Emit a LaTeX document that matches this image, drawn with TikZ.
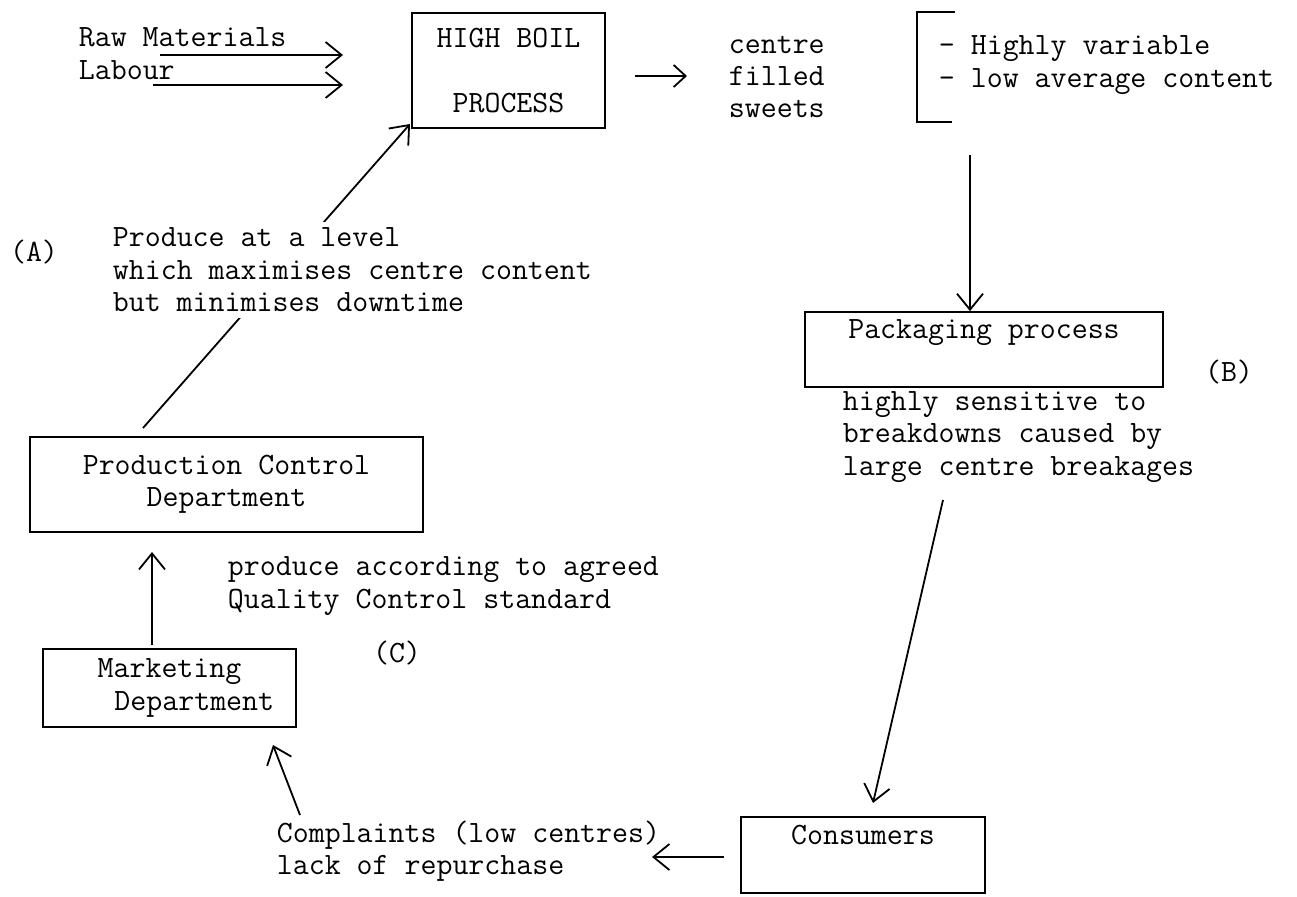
\documentclass[tikz,border=0pt]{standalone}
\usepackage{fontspec}
\usetikzlibrary{arrows.meta}
\newcommand{\tw}{\fontsize{15.5}{16.2}\selectfont\ttfamily}

\begin{document}
\begin{tikzpicture}[x=0.5pt, y=-0.5pt, font=\tw, line width=0.9pt,
    >={Straight Barb[length=8pt,width=13pt]},
    box/.style={draw, inner sep=0pt, align=center},
    note/.style={anchor=west, inner sep=0pt, align=left}]
    \useasboundingbox (0,0) rectangle (1297,896);

    % Inputs
    \node [note] (rawmat) at (78,37) {Raw Materials};
    \node [note] (labour) at (78,70) {Labour};
    \coordinate (rmA) at (160,55);  \coordinate (rmB) at (343,55);
    \coordinate (lbA) at (153,85);  \coordinate (lbB) at (343,85);
    \draw [->] (rmA) -- (rmB);
    \draw [->] (lbA) -- (lbB);

    % High boil process
    \node [box, minimum width=96.5pt, minimum height=57.5pt] (boil) at (508.5,70.5)
        {HIGH BOIL\\[16pt]PROCESS};
    \coordinate (bwA) at (635,76);  \coordinate (bwB) at (687,76);
    \draw [->, >={Straight Barb[length=6pt,width=11pt]}] (bwA) -- (bwB);
    \node [note] (sweets) at (728,77) {centre\\filled\\sweets};

    % Bracket and remarks
    \coordinate (brT) at (955,12);  \coordinate (brB) at (952,122);
    \draw (brT) -- (917,12) -- (917,122) -- (brB);
    \node [note] (vary) at (938,65) {- Highly variable\\- low average content};

    % Packaging
    \node [box, minimum width=179pt, minimum height=37.5pt] (pack) at (984,349.5)
        {Packaging process\\[4pt]};
    \coordinate (pkA) at (970,155);
    \draw [->] (pkA) -- (pkA |- pack.north);
    \node [note] (brk) at (842,437) {highly sensitive to\\breakdowns caused by\\large centre breakages};
    \node (labB) at (1229,372) {(B)};

    % Consumers
    \node [box, minimum width=122pt, minimum height=38pt] (cons) at (863,855) {Consumers\\[4pt]};
    \coordinate (csA) at (943,500);  \coordinate (csB) at (873,803);
    \draw [->] (csA) -- (csB);
    \node [note] (compl) at (276,851) {Complaints (low centres)\\lack of repurchase};
    \coordinate (cmA) at (724,857);  \coordinate (cmB) at (652,857);
    \draw [->] (cmA) -- (cmB);

    % Marketing
    \node [box, minimum width=126.5pt, minimum height=39pt] (mkt) at (169.5,688)
        {Marketing\\\hspace*{1.6em}Department};
    \coordinate (mkA) at (300,815);  \coordinate (mkB) at (273,745);
    \draw [->] (mkA) -- (mkB);
    \node (labC) at (397,653) {(C)};
    \node [note] (qc) at (227,586) {produce according to agreed\\Quality Control standard};

    % Production control
    \node [box, minimum width=196.5pt, minimum height=47.5pt] (prod) at (226.5,484.5)
        {Production Control\\Department};
    \coordinate (pcA) at (152,645);  \coordinate (pcB) at (152,552);
    \draw [->] (pcA) -- (pcB);
    \coordinate (lvA) at (143,428);  \coordinate (lvB) at (410,124);
    \draw [->] (lvA) -- (lvB);
    \node [note, fill=white, inner ysep=3pt] (level) at (112,270)
        {Produce at a level\\which maximises centre content\\but minimises downtime};
    \node (labA) at (34,252) {(A)};
\end{tikzpicture}
\end{document}
